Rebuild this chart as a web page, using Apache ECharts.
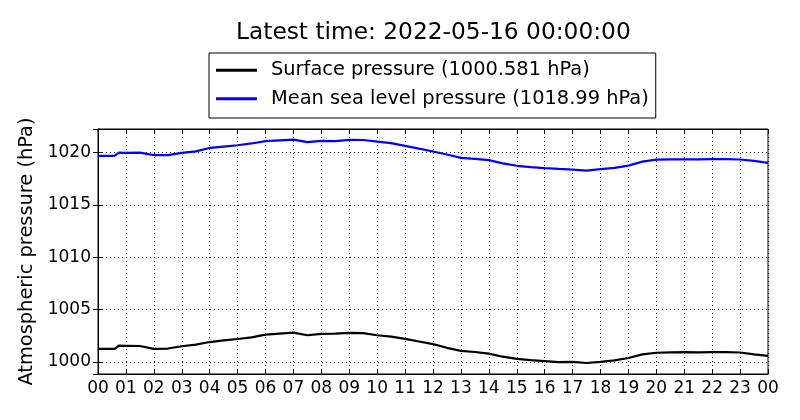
<!DOCTYPE html>
<html>
<head>
<meta charset="utf-8">
<script src="https://cdn.jsdelivr.net/npm/echarts@6/dist/echarts.min.js"></script>
<style>
  html, body { margin: 0; padding: 0; background: #fff; }
  #chart { width: 800px; height: 420px; }
</style>
</head>
<body>
<div id="chart"></div>
<script>
// hours since 00:00 of the shown day
const hours = [0, 0.5, 0.6, 0.75, 1, 1.5, 2, 2.5, 3, 3.5, 4, 4.5, 5, 5.5, 6, 6.5, 7, 7.5, 8, 8.5,
    9, 9.5, 10, 10.5, 11, 11.5, 12, 12.5, 13, 13.5, 14, 14.5, 15, 15.5, 16, 16.5, 17, 17.5,
    18, 18.5, 19, 19.5, 20, 20.5, 21, 21.5, 22, 22.5, 23, 23.5, 24];
const surfacePressure = [1001.24, 1001.24, 1001.25, 1001.55, 1001.54, 1001.52, 1001.25, 1001.28,
    1001.5, 1001.65, 1001.9, 1002.05, 1002.19, 1002.35, 1002.6, 1002.7, 1002.8, 1002.55, 1002.68,
    1002.7, 1002.77, 1002.75, 1002.55, 1002.42, 1002.2, 1001.95, 1001.7, 1001.35, 1001.05, 1000.95,
    1000.8, 1000.5, 1000.3, 1000.18, 1000.08, 999.98, 1000.0, 999.9, 1000.0, 1000.15, 1000.38,
    1000.72, 1000.88, 1000.92, 1000.93, 1000.92, 1000.93, 1000.93, 1000.9, 1000.72, 1000.58];
const seaLevelPressure = [1019.67, 1019.67, 1019.68, 1019.98, 1019.96, 1019.97, 1019.73, 1019.74,
    1019.95, 1020.1, 1020.42, 1020.55, 1020.68, 1020.85, 1021.07, 1021.15, 1021.22, 1020.97, 1021.1,
    1021.08, 1021.2, 1021.18, 1021.03, 1020.88, 1020.62, 1020.35, 1020.08, 1019.8, 1019.48, 1019.38,
    1019.26, 1018.95, 1018.72, 1018.6, 1018.5, 1018.42, 1018.36, 1018.26, 1018.4, 1018.52, 1018.74,
    1019.12, 1019.3, 1019.33, 1019.34, 1019.33, 1019.35, 1019.35, 1019.32, 1019.18, 1018.99];
const seriesNames = ["Surface pressure (1000.581 hPa)", "Mean sea level pressure (1018.99 hPa)"];
const titleText = "Latest time: 2022-05-16 00:00:00";

const font = "DejaVu Sans";
const chart = echarts.init(document.getElementById("chart"));

function pairs(xs, ys) {
    return xs.map(function (x, i) { return [x, ys[i]]; });
}
function hourLabel(v) {
    const h = Math.round(v) % 24;
    return (h < 10 ? "0" : "") + h;
}

const yMin = 998.85, yMax = 1022.23;

const option = {
    animation: false,
    title: {
        text: titleText,
        left: 236,
        top: 21,
        padding: 0,
        textStyle: { fontFamily: font, fontSize: 23.3, fontWeight: "normal", color: "#000" }
    },
    legend: {
        orient: "vertical",
        left: 209,
        top: 53,
        data: seriesNames,
        icon: "rect",
        itemWidth: 41,
        itemHeight: 3,
        itemGap: 8,
        padding: [7, 7, 9, 7],
        borderColor: "#000",
        borderWidth: 1,
        borderRadius: 0,
        textStyle: { fontFamily: font, fontSize: 19.4, color: "#000", lineHeight: 20.5, padding: [0, 0, 0, 9] }
    },
    grid: {
        left: 98,
        right: 32,
        top: 129,
        bottom: 46,
        show: true,
        borderColor: "#000",
        borderWidth: 1
    },
    xAxis: [{
        type: "value",
        min: 0,
        max: 24,
        interval: 1,
        axisLine: { show: true, lineStyle: { color: "#000", width: 1 } },
        axisTick: { show: true, inside: true, length: 5, lineStyle: { color: "#000" } },
        axisLabel: { fontFamily: font, fontSize: 17, color: "#000", margin: 6, formatter: hourLabel },
        splitLine: { show: true, lineStyle: { color: "#000", type: [1, 3], width: 1 } }
    }, {
        type: "value",
        position: "top",
        min: 0,
        max: 24,
        interval: 1,
        axisLine: { show: true, lineStyle: { color: "#000", width: 1 } },
        axisTick: { show: true, inside: true, length: 5, lineStyle: { color: "#000" } },
        axisLabel: { show: false },
        splitLine: { show: false }
    }],
    yAxis: [{
        type: "value",
        min: yMin,
        max: yMax,
        splitNumber: 5,
        minInterval: 5,
        maxInterval: 5,
        name: "Atmospheric pressure (hPa)",
        nameLocation: "middle",
        nameGap: 54,
        nameTextStyle: { fontFamily: font, fontSize: 19.4, color: "#000" },
        axisLine: { show: true, lineStyle: { color: "#000", width: 1 } },
        axisTick: { show: true, inside: true, length: 5, lineStyle: { color: "#000" } },
        axisLabel: {
            fontFamily: font, fontSize: 17, color: "#000", margin: 7,
            showMinLabel: false, showMaxLabel: false,
            formatter: function (v) { return Math.abs(v % 5) < 1e-6 ? String(Math.round(v)) : ""; }
        },
        splitLine: { show: true, lineStyle: { color: "#000", type: [1, 3], width: 1 } }
    }, {
        type: "value",
        position: "right",
        min: yMin,
        max: yMax,
        splitNumber: 5,
        minInterval: 5,
        maxInterval: 5,
        axisLine: { show: true, lineStyle: { color: "#000", width: 1 } },
        axisTick: { show: true, inside: true, length: 5, lineStyle: { color: "#000" } },
        axisLabel: { show: false },
        splitLine: { show: false }
    }],
    series: [{
        name: seriesNames[0],
        type: "line",
        data: pairs(hours, surfacePressure),
        showSymbol: false,
        symbol: "none",
        color: "#000",
        lineStyle: { color: "#000", width: 2.2 }
    }, {
        name: seriesNames[1],
        type: "line",
        data: pairs(hours, seaLevelPressure),
        showSymbol: false,
        symbol: "none",
        color: "#0000ff",
        lineStyle: { color: "#0000ff", width: 2.2 }
    }]
};
chart.setOption(option);
</script>
</body>
</html>
